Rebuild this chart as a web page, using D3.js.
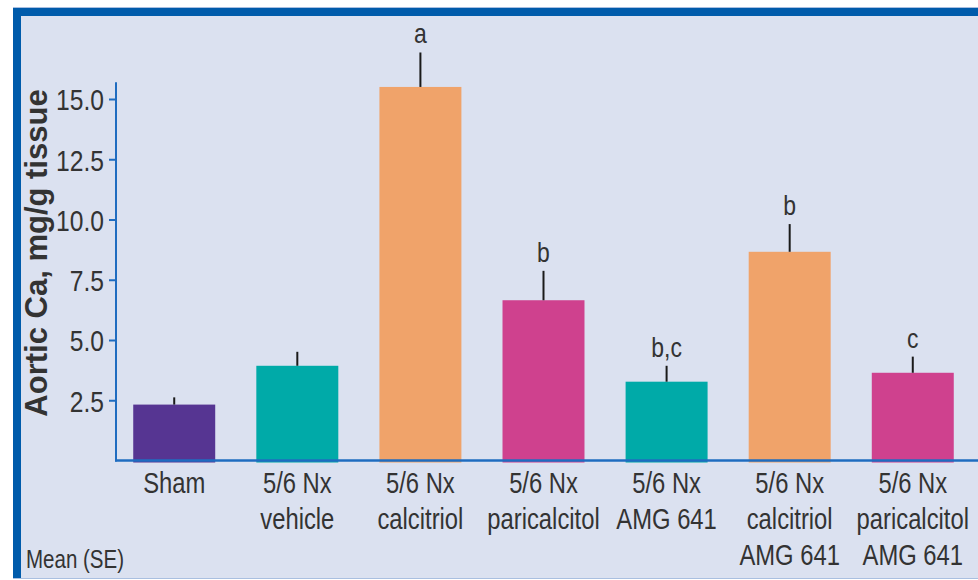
<!DOCTYPE html>
<html>
<head>
<meta charset="utf-8">
<script src="https://cdn.jsdelivr.net/npm/d3@7"></script>
<style>
  html, body { margin: 0; padding: 0; background: #ffffff; }
  svg { display: block; }
  .narrow { font-family: "Liberation Sans", Arial, sans-serif; }
</style>
</head>
<body>
<svg id="chart" width="978" height="580"></svg>
<script>
// Aortic calcium by treatment group, mean with standard error
const groups = ["Sham", "5/6 Nx vehicle", "5/6 Nx calcitriol", "5/6 Nx paricalcitol",
                "5/6 Nx AMG 641", "5/6 Nx calcitriol AMG 641", "5/6 Nx paricalcitol AMG 641"];
const groupLines = [["Sham"], ["5/6 Nx", "vehicle"], ["5/6 Nx", "calcitriol"], ["5/6 Nx", "paricalcitol"],
                    ["5/6 Nx", "AMG 641"], ["5/6 Nx", "calcitriol", "AMG 641"], ["5/6 Nx", "paricalcitol", "AMG 641"]];
const means = [2.32, 3.93, 15.5, 6.65, 3.27, 8.66, 3.64];
const stdErr = [0.3, 0.58, 1.43, 1.22, 0.66, 1.15, 0.67];
const sigLetters = ["", "", "a", "b", "b,c", "b", "c"];
const barColors = ["#563592", "#00aaa8", "#f0a36a", "#cf418e", "#00aaa8", "#f0a36a", "#cf418e"];
const yTicks = [2.5, 5.0, 7.5, 10.0, 12.5, 15.0];

const W = 978, H = 580;
const svg = d3.select("#chart");

// squeeze glyphs horizontally to get a condensed face
function condense(sel, factor) {
  sel.each(function () {
    const len = this.getComputedTextLength();
    if (len > 0) {
      d3.select(this).attr("textLength", len * factor).attr("lengthAdjust", "spacingAndGlyphs");
    }
  });
}

// panel background and frame
svg.append("rect").attr("x", 13).attr("y", 7).attr("width", W - 13).attr("height", 572)
  .attr("fill", "#a9bfe0");
svg.append("rect").attr("x", 13).attr("y", 8).attr("width", W - 13).attr("height", 570)
  .attr("fill", "#dbe1f0");
svg.append("rect").attr("x", 13).attr("y", 8).attr("width", W - 13).attr("height", 8)
  .attr("fill", "#005bab");
svg.append("rect").attr("x", 13).attr("y", 8).attr("width", 8).attr("height", 570)
  .attr("fill", "#005bab");

const plotLeft = 116;
const y = d3.scaleLinear().domain([0, 15]).range([460.5, 99]);
const yTop = 15.7;

const x = d3.scaleBand().domain(groups).range([plotLeft, 971])
  .paddingInner(0.334).paddingOuter(0.14);
const cx = d => x(d) + x.bandwidth() / 2;

// bars
svg.append("g").selectAll("rect").data(groups).join("rect")
  .attr("x", d => x(d))
  .attr("width", x.bandwidth())
  .attr("y", (d, i) => y(means[i]))
  .attr("height", (d, i) => y(0) - y(means[i]) + 2)
  .attr("fill", (d, i) => barColors[i]);

// error bars (upper half only)
svg.append("g").selectAll("line").data(groups).join("line")
  .attr("x1", cx)
  .attr("x2", cx)
  .attr("y1", (d, i) => y(means[i]))
  .attr("y2", (d, i) => y(means[i] + stdErr[i]))
  .attr("stroke", "#1a1a1a").attr("stroke-width", 2);

// significance letters
const sig = svg.append("g").selectAll("text").data(groups).join("text")
  .attr("class", "narrow")
  .attr("x", cx)
  .attr("y", (d, i) => y(means[i] + stdErr[i]) - 9)
  .attr("text-anchor", "middle")
  .attr("font-size", 28)
  .attr("fill", "#333")
  .text((d, i) => sigLetters[i]);
condense(sig, 0.82);

// y axis
const yAxis = d3.axisLeft(y).tickValues(yTicks).tickFormat(d3.format(".1f"))
  .tickSize(7).tickSizeOuter(0);
const gy = svg.append("g").attr("transform", `translate(${plotLeft},0)`).call(yAxis);
gy.select(".domain").remove();
gy.append("line").attr("x1", 0).attr("x2", 0).attr("y1", y(yTop)).attr("y2", y(0) + 1)
  .attr("stroke", "#1f6cc0").attr("stroke-width", 2);
gy.selectAll(".tick line").attr("stroke", "#1f6cc0").attr("stroke-width", 2);
const tickText = gy.selectAll(".tick text")
  .attr("class", "narrow")
  .attr("x", -12)
  .attr("dy", "0.36em")
  .attr("font-size", 30)
  .attr("fill", "#333");
condense(tickText, 0.82);

// x axis baseline
svg.append("line").attr("x1", plotLeft - 1).attr("x2", W).attr("y1", y(0)).attr("y2", y(0))
  .attr("stroke", "#1f6cc0").attr("stroke-width", 2.5);

// category labels, one text element per line
const catLines = groups.flatMap((g, i) => groupLines[i].map((t, j) => ({ g, t, j })));
const cats = svg.append("g").selectAll("text").data(catLines).join("text")
  .attr("class", "narrow")
  .attr("text-anchor", "middle")
  .attr("font-size", 29)
  .attr("fill", "#333")
  .attr("x", d => cx(d.g))
  .attr("y", d => 493 + d.j * 36)
  .text(d => d.t);
condense(cats, 0.82);

// y axis title
svg.append("text")
  .attr("transform", "translate(47,253) rotate(-90)")
  .attr("text-anchor", "middle")
  .attr("font-family", "'Liberation Sans', Arial, sans-serif")
  .attr("font-weight", "bold")
  .attr("font-size", 31)
  .attr("fill", "#333")
  .text("Aortic Ca, mg/g tissue");

// footnote
const foot = svg.append("text")
  .attr("class", "narrow")
  .attr("x", 26).attr("y", 568)
  .attr("font-size", 25)
  .attr("fill", "#333")
  .text("Mean (SE)");
condense(foot, 0.82);
</script>
</body>
</html>
